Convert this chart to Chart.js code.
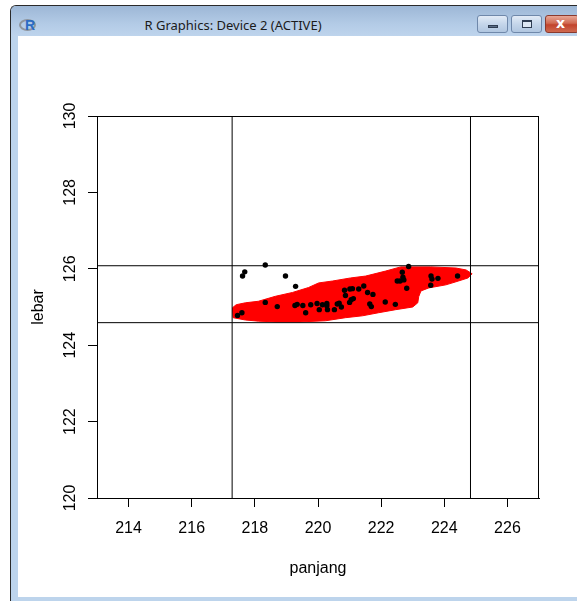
<!DOCTYPE html>
<html>
<head>
<meta charset="utf-8">
<script src="https://cdn.jsdelivr.net/npm/chart.js@4/dist/chart.umd.min.js"></script>
<style>
    body { margin: 0; width: 577px; height: 601px; background: #fff; overflow: hidden; position: relative; font-family: 'Noto Sans', sans-serif; }
    .frame { position: absolute; left: 10px; top: 5px; width: 567px; height: 596px; background: #bdd4ec; border-left: 1px solid #2a2a2a; border-top: 1px solid #2a2a2a; border-top-left-radius: 6px; box-sizing: border-box; }
    .titlebar { position: absolute; left: 11px; top: 6px; width: 566px; height: 30px; background: linear-gradient(#9db7d6, #b3cbe6 60%, #bed4ec); border-top-left-radius: 5px; }
    .title { position: absolute; left: 0; width: 444px; top: 9px; text-align: center; font-size: 13px; color: #1b1b1b; line-height: 20px; }
    .logo { position: absolute; left: 19px; top: 19px; width: 17px; height: 12px; border: 2px solid #8e959e; border-radius: 50%; box-sizing: border-box; }
    .logo-r { position: absolute; left: 25px; top: 17px; font: bold 14px 'Liberation Sans', sans-serif; color: #2a6bc4; line-height: 16px; }
    .btn { position: absolute; top: 15px; height: 18px; border: 1px solid #6f88aa; border-radius: 3px; box-sizing: border-box; background: linear-gradient(#e2ebf6, #c5d6ea 50%, #b0c6e0); }
    .btn.min { left: 477px; width: 31px; }
    .btn.max { left: 511px; width: 31px; }
    .btn.close { left: 545px; width: 34px; border-color: #8a3a2e; background: linear-gradient(#e8a796, #d06a52 45%, #c2432c 55%, #cf6a50); }
    .glyph-min { position: absolute; left: 10px; top: 9px; width: 10px; height: 3px; background: #5a6d86; border: 1px solid #2f3d52; box-sizing: border-box; }
    .glyph-max { position: absolute; left: 10px; top: 4px; width: 10px; height: 8px; border: 1px solid #2f3d52; border-top-width: 2px; box-sizing: border-box; background: #dde7f3; }
    .glyph-x { position: absolute; left: 10px; top: -1px; font: bold 14px 'DejaVu Sans', sans-serif; color: #fff; }
    .client { position: absolute; left: 18px; top: 36px; width: 559px; height: 561px; background: #fff; }
    canvas { position: absolute; left: 0; top: 0; }
</style>
</head>
<body>
<div class="frame"></div>
<div class="titlebar"><div class="title">R Graphics: Device 2 (ACTIVE)</div></div>
<div class="logo"></div><div class="logo-r">R</div>
<div class="btn min"><div class="glyph-min"></div></div>
<div class="btn max"><div class="glyph-max"></div></div>
<div class="btn close"><div class="glyph-x">x</div></div>
<div class="client"><canvas id="plot" width="559" height="561"></canvas></div>

<script>
// data: panjang (x) vs lebar (y)
const panjang = [217.45, 217.59, 217.61, 217.68, 218.33, 218.33, 218.71, 218.97, 219.29, 219.27,
    219.34, 219.52, 219.61, 219.77, 219.97, 220.04, 220.14, 220.28, 220.28, 220.30,
    220.52, 220.61, 220.67, 220.74, 220.84, 220.87, 221.00, 221.01, 221.09, 221.05,
    221.12, 221.29, 221.45, 221.57, 221.64, 221.69, 221.74, 222.13, 222.45, 222.51,
    222.60, 222.67, 222.69, 222.72, 222.81, 222.87, 223.58, 223.61, 223.57, 223.80, 224.42];
const lebar = [124.78, 124.85, 125.81, 125.92, 126.10, 125.12, 125.01, 125.81, 125.54, 125.04,
    125.07, 125.04, 124.85, 125.06, 125.09, 124.93, 125.06, 125.09, 125.03, 124.93,
    124.93, 125.08, 125.10, 125.00, 125.44, 125.30, 125.12, 125.47, 125.48, 125.19,
    125.22, 125.47, 125.55, 125.38, 125.08, 125.01, 125.33, 125.13, 125.07, 125.68,
    125.68, 125.91, 125.78, 125.71, 125.49, 126.06, 125.81, 125.73, 125.57, 125.75, 125.81];

// red region outline
const blobX = [217.29, 217.41, 217.70, 218.11, 218.65, 219.19, 219.70, 220.02, 220.46, 221.03,
    221.51, 222.14, 222.62, 223.57, 224.37, 224.69, 224.88, 224.75, 224.37, 224.05,
    223.51, 223.26, 223.19, 223.16, 223.00, 222.46, 221.92, 221.41, 220.87, 220.24,
    219.44, 218.65, 218.11, 217.70, 217.31, 217.29];
const blobY = [124.98, 125.06, 125.11, 125.15, 125.28, 125.38, 125.51, 125.63, 125.68, 125.76,
    125.81, 125.94, 126.05, 126.05, 126.02, 125.97, 125.87, 125.76, 125.66, 125.58,
    125.50, 125.42, 125.27, 125.11, 125.00, 124.93, 124.85, 124.77, 124.72, 124.64,
    124.61, 124.61, 124.63, 124.66, 124.72, 124.98];

const vLines = [217.28, 224.83];
const hLines = [126.08, 124.59];

const xTicks = [214, 216, 218, 220, 222, 224, 226];
const yTicks = [120, 122, 124, 126, 128, 130];

const rFont = { family: 'Liberation Sans', size: 16 };

const points = panjang.map((x, i) => ({ x: x, y: lebar[i] }));
const blob = blobX.map((x, i) => ({ x: x, y: blobY[i] }));

const lineSets = [];
vLines.forEach(v => lineSets.push([{ x: v, y: 120 }, { x: v, y: 130 }]));
hLines.forEach(h => lineSets.push([{ x: 213, y: h }, { x: 227, y: h }]));

// kotak plot
const boxPlugin = {
    id: 'box',
    afterDatasetsDraw(chart) {
        const a = chart.chartArea;
        const ctx = chart.ctx;
        ctx.save();
        ctx.strokeStyle = '#000';
        ctx.lineWidth = 1;
        ctx.strokeRect(Math.round(a.left) + 0.5, Math.round(a.top) + 0.5,
            Math.round(a.right - a.left) - 1, Math.round(a.bottom - a.top));
        ctx.restore();
    }
};

new Chart(document.getElementById('plot'), {
    type: 'scatter',
    data: {
        datasets: [
            {
                data: points,
                backgroundColor: '#000',
                borderWidth: 0,
                pointRadius: 2.7,
                order: 0
            },
            ...lineSets.map(d => ({
                data: d,
                showLine: true,
                borderColor: '#000',
                borderWidth: 1,
                pointRadius: 0,
                order: 1
            })),
            {
                data: blob,
                showLine: true,
                fill: 'shape',
                backgroundColor: '#ff0000',
                borderColor: '#ff0000',
                borderWidth: 1,
                pointRadius: 0,
                order: 2
            }
        ]
    },
    options: {
        responsive: false,
        animation: false,
        layout: { padding: { left: 0, top: 80, right: 38, bottom: 0 } },
        plugins: { legend: { display: false }, tooltip: { enabled: false } },
        scales: {
            x: {
                type: 'linear',
                min: 213,
                max: 227,
                afterBuildTicks: axis => { axis.ticks = xTicks.map(v => ({ value: v })); },
                afterFit: s => { s.height = 99; },
                ticks: { font: rFont, color: '#000', padding: 12, maxRotation: 0, autoSkip: false },
                grid: { drawOnChartArea: false, drawTicks: true, tickLength: 9, color: '#000' },
                border: { display: true, color: '#000' },
                title: { display: true, text: 'panjang', font: rFont, color: '#000', padding: { top: 0, bottom: 19 } }
            },
            y: {
                type: 'linear',
                min: 120,
                max: 130,
                afterBuildTicks: axis => { axis.ticks = yTicks.map(v => ({ value: v })); },
                afterFit: s => { s.width = 79; },
                ticks: { font: rFont, color: '#000', padding: 4, minRotation: 90, maxRotation: 90, crossAlign: 'center', autoSkip: false },
                grid: { drawOnChartArea: false, drawTicks: true, tickLength: 9, color: '#000' },
                border: { display: true, color: '#000' },
                title: { display: true, text: 'lebar', font: rFont, color: '#000', padding: { top: 11, bottom: 0 } }
            }
        }
    },
    plugins: [boxPlugin]
});
</script>
</body>
</html>
